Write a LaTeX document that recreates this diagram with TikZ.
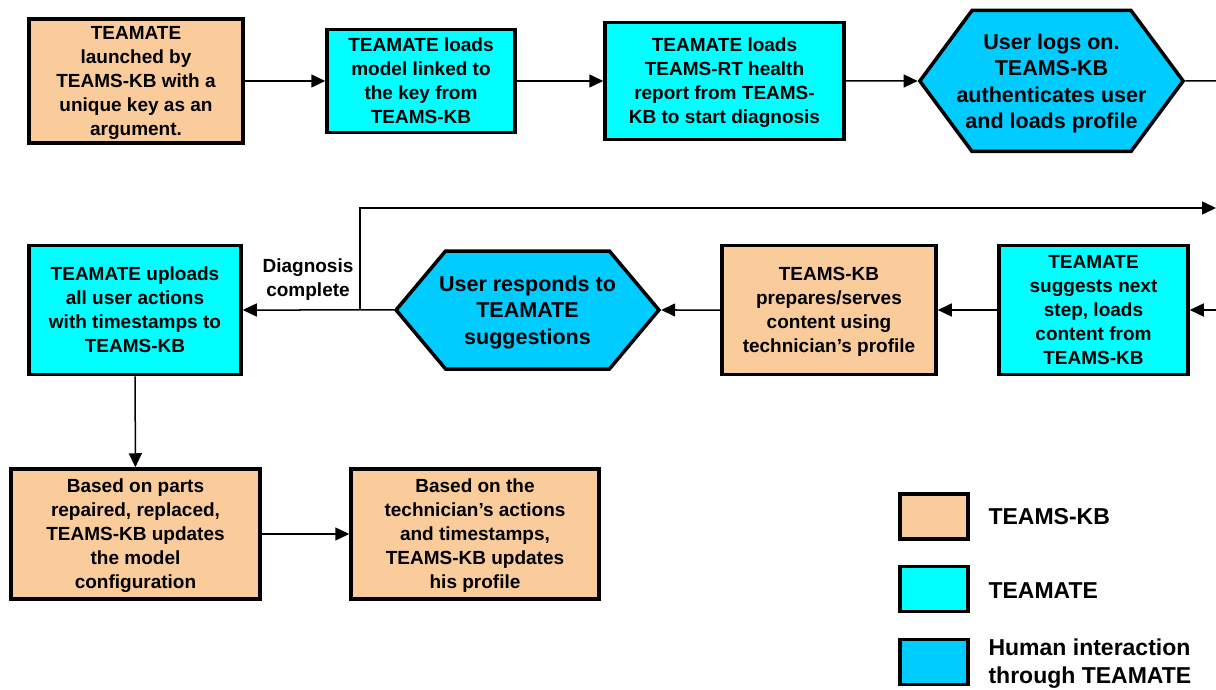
\documentclass[tikz,border=0pt]{standalone}
\usepackage{fontspec}
\setmainfont{Liberation Sans}
\usepackage{xcolor}
\usetikzlibrary{calc}
\usetikzlibrary{arrows.meta}
\usetikzlibrary{shapes.symbols}

\definecolor{kbpeach}{HTML}{FACC9C}
\definecolor{mateaqua}{HTML}{00FFFF}
\definecolor{humanblue}{HTML}{00CCFF}

\begin{document}
\begin{tikzpicture}[x=1pt, y=-1pt]

\tikzset{
    box/.style = {
    draw,
    line width=3.5pt,
    inner sep=0pt,
    align=center,
    text depth=0pt,
    font=\fontsize{19}{24}\selectfont\bfseries
    }
}

\tikzstyle{kb}=[box, fill=kbpeach]
\tikzstyle{mate}=[box, fill=mateaqua]
\tikzstyle{human}=[box, fill=humanblue, signal, signal to=west and east, font=\fontsize{21.5}{26.5}\selectfont\bfseries]
\tikzstyle{flow}=[line width=1.5pt, -{Triangle[length=14pt,width=13pt]}]
\tikzstyle{key}=[draw, line width=3.5pt, minimum width=68pt, minimum height=45pt]

\useasboundingbox (0,0) rectangle (1216,690);

% top row
\node (launch) [kb, minimum width=214pt, minimum height=124pt] at (136,81)
  {TEAMATE\\launched by\\TEAMS-KB with a\\unique key as an\\argument.};
\node (loadmodel) [mate, minimum width=188pt, minimum height=103pt] at (421,81)
  {TEAMATE loads\\model linked to\\the key from\\TEAMS-KB};
\node (loadreport) [mate, minimum width=239pt, minimum height=117pt] at (724.5,81)
  {TEAMATE loads\\TEAMS-RT health\\report from TEAMS-\\KB to start diagnosis};
\node (logon) [human, inner xsep=-15.5pt, signal pointer angle=107, minimum height=141pt] at (1051.5,81)
  {User logs on.\\TEAMS-KB\\authenticates user\\and loads profile};

% middle row
\node (suggest) [mate, minimum width=189pt, minimum height=129pt] at (1093.5,310)
  {TEAMATE\\suggests next\\step, loads\\content from\\TEAMS-KB};
\node (serve) [kb, minimum width=214pt, minimum height=129pt] at (829,310)
  {TEAMS-KB\\prepares/serves\\content using\\technician’s profile};
\node (respond) [human, inner xsep=-6.5pt, signal pointer angle=100, minimum height=118pt] at (527.5,310)
  {User responds to\\TEAMATE\\suggestions};
\node (upload) [mate, minimum width=212pt, minimum height=129pt] at (135,310)
  {TEAMATE uploads\\all user actions\\with timestamps to\\TEAMS-KB};

% bottom row
\node (parts) [kb, minimum width=249pt, minimum height=130pt] at (135.5,534)
  {Based on parts\\repaired, replaced,\\TEAMS-KB updates\\the model\\configuration};
\node (profile) [kb, minimum width=248pt, minimum height=130pt] at (475,534)
  {Based on the\\technician’s actions\\and timestamps,\\TEAMS-KB updates\\his profile};

% connectors
\coordinate (edgetop) at (1216,81);
\coordinate (edgeloop) at (1216,208);
\coordinate (loopcorner) at (360,208);
\coordinate (split) at (360,310);
\coordinate (edgeback) at (1216,310);

\draw[flow] (launch) -- (loadmodel);
\draw[flow] (loadmodel) -- (loadreport);
\draw[flow] (loadreport) -- (logon);
\draw[line width=1.5pt] (logon) -- (edgetop);
\draw[flow] (edgeback) -- (suggest);
\draw[flow] (suggest) -- (serve);
\draw[flow] (serve) -- (respond);
\draw[flow] (respond) -- (upload);
\draw[flow] (split) -- (loopcorner) -- (edgeloop);
\draw[flow] (upload) -- (parts);
\draw[flow] (parts) -- (profile);

\node (done) [align=center, font=\fontsize{19}{24}\selectfont\bfseries] at (308,280) {Diagnosis\\complete};

% legend
\node (keykb) [key, fill=kbpeach] at (934,516.5) {};
\node (keymate) [key, fill=mateaqua] at (934,589) {};
\node (keyhuman) [key, fill=humanblue] at (934,662) {};

\node (keykbtext) [anchor=west, font=\fontsize{23}{28}\selectfont\bfseries] at (985,516.5) {TEAMS-KB};
\node (keymatetext) [anchor=west, font=\fontsize{23}{28}\selectfont\bfseries] at (985,591) {TEAMATE};
\node (keyhumantext) [anchor=west, align=left, font=\fontsize{23}{28}\selectfont\bfseries] at (985,664) {Human interaction\\through TEAMATE};

\end{tikzpicture}
\end{document}
